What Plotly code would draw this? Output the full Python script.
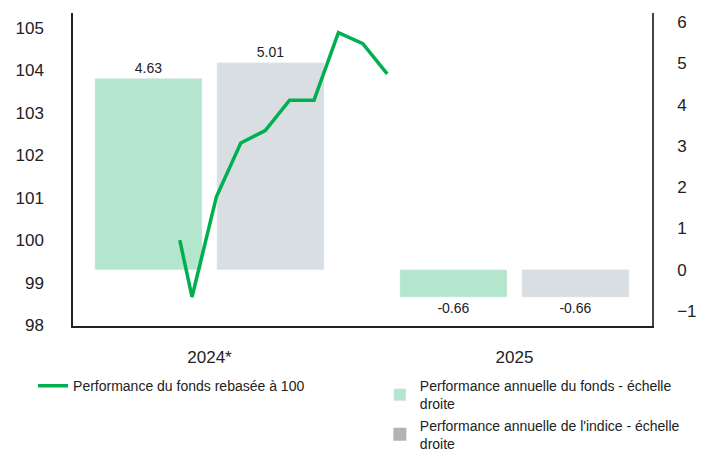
import plotly.graph_objects as go

categories = ["2024*", "2025"]
cat_pos = [0, 1]
fund_perf = [4.63, -0.66]
index_perf = [5.01, -0.66]

line_x_month = [0.5, 1, 2, 3, 4, 5, 6, 7, 8, 9]
line_values = [100.0, 98.66, 101.02, 102.29, 102.58, 103.3, 103.3, 104.89, 104.63, 103.92]

left_ticks = [98, 99, 100, 101, 102, 103, 104, 105]
right_ticks = [-1, 0, 1, 2, 3, 4, 5, 6]

FONT = "Liberation Sans, Arial, sans-serif"
GREEN = "#00B050"
FUND_BAR = "#B3E6CC"
INDEX_BAR = "#D9DEE2"
INDEX_LEG = "#B3B3B3"

fig = go.Figure()

# Bars: main subplot (x / y), y on the right side
fig.add_trace(go.Bar(
    x=cat_pos, y=fund_perf, name="Performance annuelle du fonds - échelle<br>droite",
    marker=dict(color=FUND_BAR), xaxis="x", yaxis="y",
    text=[f"{v:.2f}" for v in fund_perf], textposition="outside",
    textfont=dict(size=14, color="#222", family=FONT), cliponaxis=False,
    legend="legend2"))
fig.add_trace(go.Bar(
    x=cat_pos, y=index_perf, name="Performance annuelle de l'indice - échelle<br>droite",
    marker=dict(color=INDEX_BAR), xaxis="x", yaxis="y",
    text=[f"{v:.2f}" for v in index_perf], textposition="outside",
    textfont=dict(size=14, color="#222", family=FONT), cliponaxis=False,
    showlegend=False))

# Line: overlay subplot (x2 / y2), y2 on the left side -> drawn above bars
fig.add_trace(go.Scatter(
    x=line_x_month, y=line_values, mode="lines", name="Performance du fonds rebasée à 100",
    line=dict(color=GREEN, width=3.5), xaxis="x2", yaxis="y2", legend="legend"))

# legend-only entry for index (legend swatch is darker grey in the reference)
fig.add_trace(go.Scatter(
    x=[None], y=[None], mode="markers",
    name="Performance annuelle de l'indice - échelle<br>droite",
    marker=dict(color=INDEX_LEG, symbol="square", size=13), xaxis="x2", yaxis="y2",
    legend="legend2"))

fig.update_layout(
    width=706, height=458,
    margin=dict(l=73, r=54, t=13, b=132, autoexpand=False),
    paper_bgcolor="white", plot_bgcolor="white",
    font=dict(family=FONT, color="#222"),
    barmode="group", bargap=0.2, bargroupgap=0.123,
    xaxis=dict(type="linear", range=[-0.4475, 1.451], tickvals=cat_pos, ticktext=categories,
               showgrid=False, zeroline=False, showline=True, linecolor="#222", linewidth=1.5,
               ticks="", tickfont=dict(size=17, color="#222"), ticklabelstandoff=15),
    xaxis2=dict(type="linear", range=[-3.877, 19.852], overlaying="x", visible=False),
    yaxis=dict(range=[-1.363, 6.217], tickvals=right_ticks, side="right",
               showgrid=False, zeroline=False, showline=True, linecolor="#444", linewidth=1.5,
               ticks="", tickfont=dict(size=17, color="#222"), ticklabelstandoff=20),
    yaxis2=dict(range=[97.976, 105.354], tickvals=left_ticks, overlaying="y", side="left",
                showgrid=False, zeroline=False, showline=True, linecolor="#222", linewidth=1.5,
                ticks="", tickfont=dict(size=17, color="#222"), ticklabelstandoff=24),
    legend=dict(x=-0.069, y=-0.141, xanchor="left", yanchor="top", orientation="v",
                font=dict(size=14, color="#222", family=FONT), bgcolor="rgba(0,0,0,0)"),
    legend2=dict(x=0.530, y=-0.141, xanchor="left", yanchor="top", orientation="v",
                 font=dict(size=14, color="#222", family=FONT), bgcolor="rgba(0,0,0,0)",
                 tracegroupgap=2),
    showlegend=True,
)

fig.write_html("out.html", config={"displayModeBar": False},
               post_script="document.body.style.margin='0';")
